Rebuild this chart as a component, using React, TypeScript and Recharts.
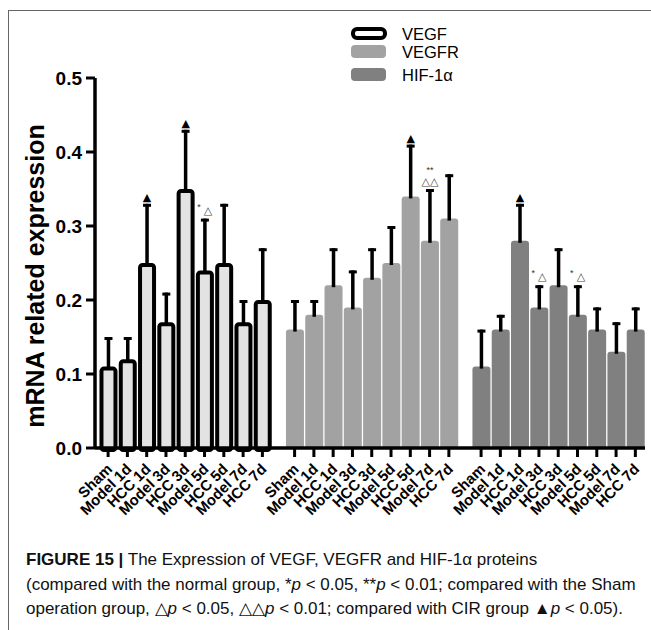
import React from 'react';
import { BarChart, Bar, XAxis, YAxis, Legend } from 'recharts';

const groupLabels = ['Sham', 'Model 1d', 'HCC 1d', 'Model 3d', 'HCC 3d', 'Model 5d', 'HCC 5d', 'Model 7d', 'HCC 7d'];
const seriesNames = ['VEGF', 'VEGFR', 'HIF-1α'];

// means and upper error
const vegfMean = [0.11, 0.12, 0.25, 0.17, 0.35, 0.24, 0.25, 0.17, 0.2];
const vegfErr = [0.04, 0.03, 0.08, 0.04, 0.08, 0.07, 0.08, 0.03, 0.07];
const vegfrMean = [0.16, 0.18, 0.22, 0.19, 0.23, 0.25, 0.34, 0.28, 0.31];
const vegfrErr = [0.04, 0.02, 0.05, 0.05, 0.04, 0.05, 0.07, 0.07, 0.06];
const hifMean = [0.11, 0.16, 0.28, 0.19, 0.22, 0.18, 0.16, 0.13, 0.16];
const hifErr = [0.05, 0.02, 0.05, 0.03, 0.05, 0.04, 0.03, 0.04, 0.03];

const vegfMarks = ['', '', '▲', '', '▲', '*△', '', '', ''];
const vegfrMarks = ['', '', '', '', '', '', '▲', '**△△', ''];
const hifMarks = ['', '', '▲', '*△', '', '*△', '', '', ''];

const yTicks = [0, 0.1, 0.2, 0.3, 0.4, 0.5];

const GROUP_STEP = 9.67;

const means = [vegfMean, vegfrMean, hifMean];
const errs = [vegfErr, vegfrErr, hifErr];
const marks = [vegfMarks, vegfrMarks, hifMarks];

const data = means.flatMap((vals, g) =>
  vals.map((v, i) => ({
    pos: g * GROUP_STEP + i,
    label: groupLabels[i],
    series: g,
    value: v,
    err: errs[g][i],
    mark: marks[g][i],
  }))
);
const tickPositions = data.map((d) => d.pos);

const seriesFill = ['#e3e3e3', '#a2a2a2', '#808080'];
const FONT = 'Liberation Sans, Arial, sans-serif';

const Mark = ({ cx, capY, mark }: { cx: number; capY: number; mark: string }) => {
  if (!mark) return null;
  if (mark === '▲') {
    return (
      <text x={cx} y={capY - 3} textAnchor="middle" fontSize={11} fontFamily="DejaVu Sans" fill="#000">
        ▲
      </text>
    );
  }
  if (mark === '*△') {
    return (
      <g>
        <text x={cx - 6} y={capY - 9} textAnchor="middle" fontSize={9} fontFamily={FONT} fill="#333">*</text>
        <text x={cx + 3} y={capY - 5} textAnchor="middle" fontSize={11} fontFamily="DejaVu Sans" fill="#444">△</text>
      </g>
    );
  }
  return (
    <g>
      <text x={cx} y={capY - 16} textAnchor="middle" fontSize={9} fontFamily={FONT} fill="#333">**</text>
      <text x={cx} y={capY - 4} textAnchor="middle" fontSize={11} fontFamily="DejaVu Sans" fill="#444">△△</text>
    </g>
  );
};

const BarShape = (props: any) => {
  const { x, y, width, height, payload } = props;
  const cx = x + width / 2;
  const capY = y - (height * payload.err) / payload.value;
  const whisker = (
    <g>
      <line x1={cx} y1={y + 2} x2={cx} y2={capY} stroke="#000" strokeWidth={3.5} />
      <line x1={cx - 4} y1={capY + 1.5} x2={cx + 4} y2={capY + 1.5} stroke="#000" strokeWidth={3} />
    </g>
  );
  if (payload.series === 0) {
    return (
      <g>
        {whisker}
        <rect x={x + 2} y={y + 2} width={width - 4} height={height} rx={2.5} fill={seriesFill[0]} stroke="#000" strokeWidth={4} />
        <Mark cx={cx} capY={capY} mark={payload.mark} />
      </g>
    );
  }
  const r = 3;
  const path = `M${x},${y + height} L${x},${y + r} Q${x},${y} ${x + r},${y} L${x + width - r},${y} Q${x + width},${y} ${x + width},${y + r} L${x + width},${y + height} Z`;
  return (
    <g>
      <path d={path} fill={seriesFill[payload.series]} />
      {whisker}
      <Mark cx={cx} capY={capY} mark={payload.mark} />
    </g>
  );
};

const XTick = (props: any) => {
  const { x, y, payload } = props;
  const row = data.find((d) => Math.abs(d.pos - payload.value) < 0.01);
  const ax = x + 5;
  const ay = y + 11;
  return (
    <text
      x={ax}
      y={ay}
      transform={`rotate(-45, ${ax}, ${ay})`}
      textAnchor="end"
      fontSize={15}
      fontWeight="bold"
      fontFamily={FONT}
      fill="#000"
    >
      {row ? row.label : ''}
    </text>
  );
};

const renderYTitle = () => (
  <text
    transform="rotate(-90)"
    x={-276}
    y={44}
    textAnchor="middle"
    fontSize={25}
    fontWeight="bold"
    fontFamily={FONT}
    fill="#000"
  >
    mRNA related expression
  </text>
);

const renderLegend = () => (
  <div style={{ fontFamily: FONT, fontSize: 16.5, color: '#000' }}>
    {seriesNames.map((name, i) => (
      <div key={name} style={{ display: 'flex', alignItems: 'center', height: 18, marginTop: i === 2 ? 5 : 0 }}>
        <svg width={40} height={16} style={{ marginRight: 12 }}>
          {i === 0 ? (
            <rect x={3} y={3} width={32} height={9} rx={4} fill="#fff" stroke="#000" strokeWidth={4} />
          ) : (
            <rect x={1} y={1} width={35} height={13} rx={4} fill={seriesFill[i]} />
          )}
        </svg>
        <span style={{ lineHeight: '18px' }}>{name}</span>
      </div>
    ))}
  </div>
);

export default function App() {
  return (
    <div style={{ position: 'absolute', left: 0, top: 0, width: 651, height: 630, background: '#fff', overflow: 'hidden' }}>
      <div
        style={{
          position: 'absolute',
          left: 8,
          top: 10,
          width: 643,
          height: 620,
          borderTop: '1.5px solid #666',
          borderLeft: '1.5px solid #666',
        }}
      />
      <div style={{ position: 'absolute', left: 0, top: 0 }}>
        <BarChart width={651} height={540} data={data} margin={{ top: 78, right: 6, bottom: 0, left: 0 }}>
          <XAxis
            type="number"
            dataKey="pos"
            domain={[-0.68, 27.84]}
            ticks={tickPositions}
            interval={0}
            tick={<XTick />}
            tickSize={9}
            tickLine={{ stroke: '#000', strokeWidth: 3 }}
            axisLine={{ stroke: '#000', strokeWidth: 3.5 }}
            height={92}
            allowDataOverflow
          />
          <YAxis
            domain={[0, 0.5]}
            ticks={yTicks}
            tickFormatter={(v: number) => v.toFixed(1)}
            width={95}
            tickSize={9}
            tickMargin={4}
            tickLine={{ stroke: '#000', strokeWidth: 3 }}
            axisLine={{ stroke: '#000', strokeWidth: 3.5 }}
            tick={{ fill: '#000', fontSize: 19, fontWeight: 'bold', fontFamily: FONT }}
            label={{ content: renderYTitle }}
          />
          <Legend
            layout="vertical"
            align="center"
            verticalAlign="middle"
            content={renderLegend}
            wrapperStyle={{ left: 350, top: 25, width: 140 }}
          />
          <Bar dataKey="value" barSize={18} shape={<BarShape />} isAnimationActive={false} />
        </BarChart>
      </div>
      <div
        style={{
          position: 'absolute',
          left: 26,
          top: 548,
          fontFamily: FONT,
          fontSize: 17,
          lineHeight: '24.5px',
          color: '#111',
          whiteSpace: 'nowrap',
        }}
      >
        <div>
          <b>FIGURE 15 |</b> The Expression of VEGF, VEGFR and HIF-1α proteins
        </div>
        <div>
          (compared with the normal group, *<i>p</i> &lt; 0.05, **<i>p</i> &lt; 0.01; compared with the Sham
        </div>
        <div>
          operation group, △<i>p</i> &lt; 0.05, △△<i>p</i> &lt; 0.01; compared with CIR group ▲<i>p</i> &lt; 0.05).
        </div>
      </div>
    </div>
  );
}
